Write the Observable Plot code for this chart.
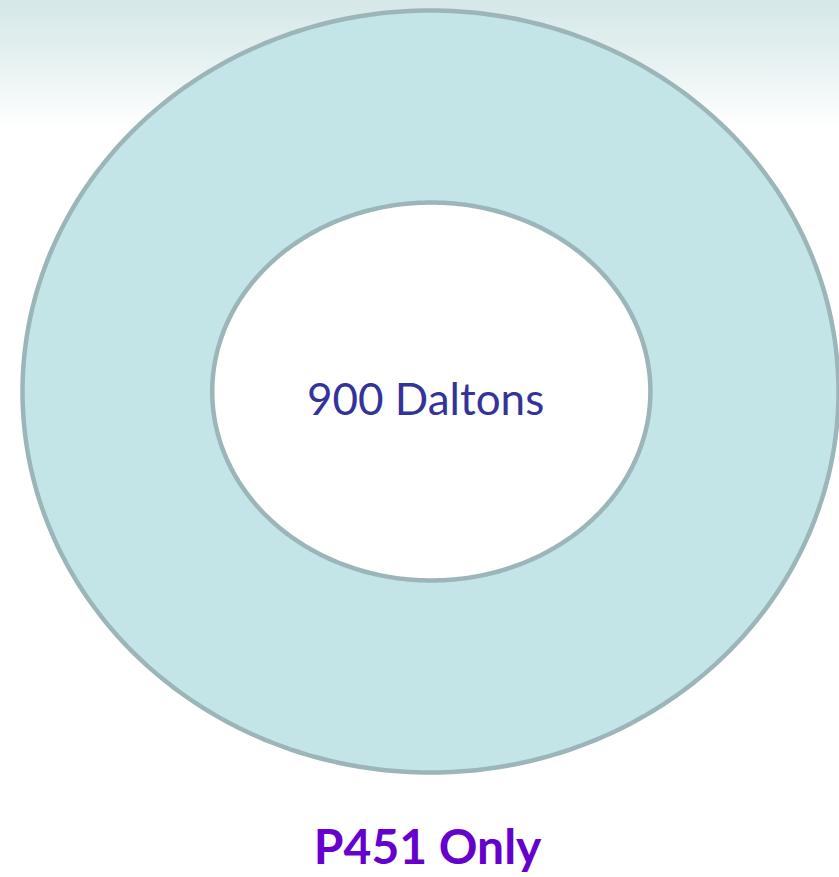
<!DOCTYPE html>
<html>
<head>
<meta charset="utf-8">
<script src="https://cdn.jsdelivr.net/npm/d3@7"></script>
<script src="https://cdn.jsdelivr.net/npm/@observablehq/plot@0.6"></script>
<style>
  html, body { margin: 0; padding: 0; }
  body {
    width: 839px; height: 877px; overflow: hidden;
    background: linear-gradient(#d5e7e7 0px, #e6f1f1 60px, #ffffff 128px, #ffffff 100%);
  }
  svg { display: block; background: transparent !important; }
</style>
</head>
<body>
<div id="chart"></div>
<script>
// Ring (single-category donut) data
const categories = ["900 Daltons"];
const ringLabels = ["900 Daltons"];
const captionText = ["P451 Only"];
// Radii in chart units (outer ellipse = 1); x and y radii of each ring edge
const outerRadiusX = [1.0];
const outerRadiusY = [1.0];
const innerRadiusX = [0.537];
const innerRadiusY = [0.496];
const innerCenterX = [0.002];
const innerCenterY = [0.0];

function ellipse(cx, cy, rx, ry, n = 360) {
  return d3.range(n).map(i => {
    const t = (i / n) * 2 * Math.PI;
    return {x: cx + rx * Math.cos(t), y: cy + ry * Math.sin(t)};
  });
}

const outer = ellipse(0, 0, outerRadiusX[0], outerRadiusY[0]);
const inner = ellipse(innerCenterX[0], innerCenterY[0], innerRadiusX[0], innerRadiusY[0]);

const chart = Plot.plot({
  width: 839,
  height: 877,
  margin: 0,
  style: {background: "transparent", overflow: "visible"},
  x: {domain: [-1, 1], range: [22, 838], axis: null},
  y: {domain: [-1, 1], range: [772, 10], axis: null},
  marks: [
    Plot.line(outer, {x: "x", y: "y", curve: "linear-closed", fill: "#c4e5e7", stroke: "#9bb5b8", strokeWidth: 4.5}),
    Plot.line(inner, {x: "x", y: "y", curve: "linear-closed", fill: "#ffffff", stroke: "#9bb5b8", strokeWidth: 4.5}),
    Plot.text(ringLabels, {x: [-0.012], y: [-0.024], text: d => d, fill: "#333399", fontSize: 44, fontFamily: "Lato", fontWeight: 400}),
    Plot.text(captionText, {x: [-0.007], y: [-1.2], text: d => d, fill: "#6600cc", fontSize: 48, fontFamily: "Lato", fontWeight: 700})
  ]
});
document.getElementById("chart").appendChild(chart);
</script>
</body>
</html>
